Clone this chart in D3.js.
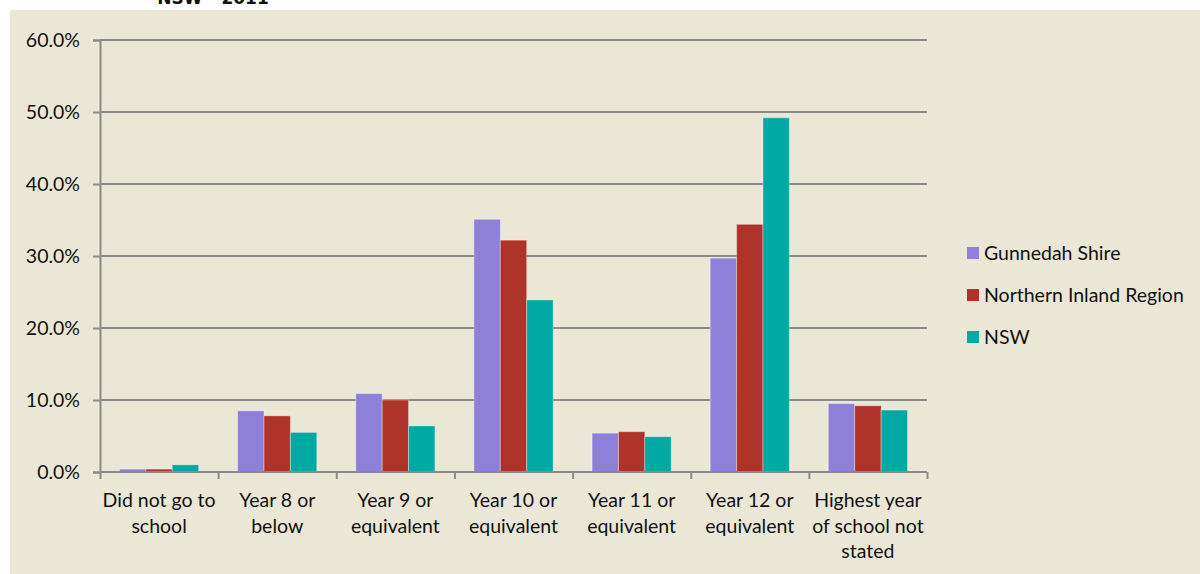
<!DOCTYPE html>
<html><head><meta charset="utf-8">
<script src="https://cdn.jsdelivr.net/npm/d3@7"></script>
<style>body{margin:0;background:#fff;}svg{display:block;}</style>
</head><body>
<svg id="c" width="1200" height="574"></svg>
<script>
const categories = [
  ["Did not go to","school"],
  ["Year 8 or","below"],
  ["Year 9 or","equivalent"],
  ["Year 10 or","equivalent"],
  ["Year 11 or","equivalent"],
  ["Year 12 or","equivalent"],
  ["Highest year","of school not","stated"]
];
const seriesNames = ["Gunnedah Shire","Northern Inland Region","NSW"];
const gunnedah = [0.4, 8.5, 10.9, 35.1, 5.4, 29.7, 9.5];
const northern = [0.4, 7.8, 10.0, 32.2, 5.6, 34.4, 9.2];
const nsw      = [1.0, 5.5, 6.4, 23.9, 4.9, 49.2, 8.6];
const yTicks = [0,10,20,30,40,50,60];
const colors = ["#8E80D8","#B0332A","#00A9A3"];

const svg = d3.select("#c");
const font = "Lato, 'Open Sans', sans-serif";
svg.append("rect").attr("x",10).attr("y",10).attr("width",1190).attr("height",564).attr("fill","#EBE7D7");
svg.append("text").attr("x",213).attr("y",4).attr("text-anchor","middle")
  .attr("font-family","'DejaVu Sans', sans-serif").attr("font-weight","bold").attr("font-size",17)
  .attr("fill","#111").text("NSW - 2011");

const x0 = d3.scaleBand().domain(d3.range(categories.length)).range([100,927]).paddingInner(0.33).paddingOuter(0.165);
const x1 = d3.scaleBand().domain(d3.range(3)).range([0,x0.bandwidth()]);
const y = d3.scaleLinear().domain([0,60]).range([472,40]);

const g = svg.append("g");
g.selectAll("line.grid").data(yTicks.filter(d=>d>0)).join("line")
  .attr("x1",100).attr("x2",927).attr("y1",d=>y(d)).attr("y2",d=>y(d))
  .attr("stroke","#8A8A8A").attr("stroke-width",2);

const data = [gunnedah, northern, nsw];
data.forEach((vals,si)=>{
  g.selectAll("rect.s"+si).data(vals).join("rect")
    .attr("x",(d,i)=>x0(i)+x1(si)).attr("width",x1.bandwidth())
    .attr("y",d=>y(d)).attr("height",d=>y(0)-y(d))
    .attr("fill",colors[si]).attr("stroke","rgba(255,255,255,0.35)").attr("stroke-width",1);
});

const yAxis = d3.axisLeft(y).tickValues(yTicks).tickSize(7).tickFormat(d=>d.toFixed(1)+"%");
const ya = svg.append("g").attr("transform","translate(100,0)").call(yAxis);
ya.select(".domain").attr("stroke","#8A8A8A").attr("stroke-width",2);
ya.selectAll(".tick line").attr("stroke","#8A8A8A").attr("stroke-width",2);
ya.selectAll("text").attr("font-family",font).attr("font-size",19.5).attr("fill","#111").attr("x",-20).attr("dy","0.35em");

const xs = d3.scaleLinear().domain([0,categories.length]).range([100,927]);
const xa = svg.append("g").attr("transform","translate(0,472)")
  .call(d3.axisBottom(xs).tickValues(d3.range(categories.length+1)).tickSize(7).tickFormat(""));
xa.select(".domain").attr("stroke","#8A8A8A").attr("stroke-width",2).attr("d","M100,0H927");
xa.selectAll(".tick line").attr("stroke","#8A8A8A").attr("stroke-width",2);

const lbl = svg.append("g");
categories.forEach((lines,i)=>{
  const t = lbl.append("text").attr("x",x0(i)+x0.bandwidth()/2).attr("y",507)
    .attr("text-anchor","middle").attr("font-family",font).attr("font-size",19.5).attr("fill","#111");
  lines.forEach((l,k)=>t.append("tspan").attr("x",x0(i)+x0.bandwidth()/2).attr("dy",k?25.5:0).text(l));
});

const leg = svg.append("g");
seriesNames.forEach((n,i)=>{
  const cy = 253 + i*42;
  leg.append("rect").attr("x",967).attr("y",cy-6).attr("width",12).attr("height",12).attr("fill",colors[i]);
  leg.append("text").attr("x",984).attr("y",cy).attr("dy","0.35em").attr("font-family",font)
    .attr("font-size",19.5).attr("fill","#111").text(n);
});
</script>
</body></html>
